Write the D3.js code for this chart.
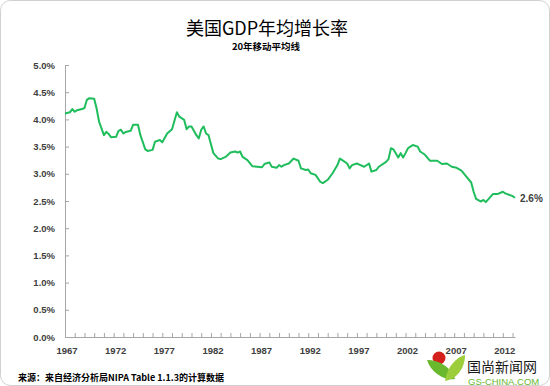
<!DOCTYPE html>
<html>
<head>
<meta charset="utf-8">
<script src="https://cdn.jsdelivr.net/npm/d3@7"></script>
<style>
  body { margin: 0; background: #fff; }
  svg { display: block; }
</style>
</head>
<body>
<div id="chart"></div>
<script>
// Chart data (quarterly-ish points, % per year)
var years = [1967.0, 1967.5, 1967.75, 1968.0, 1968.25, 1968.75, 1969.0, 1969.25, 1969.5, 1970.0,
  1970.25, 1970.5, 1971.0, 1971.25, 1971.5, 1971.75, 1972.25, 1972.5, 1972.75, 1973.0,
  1973.25, 1973.75, 1974.0, 1974.5, 1974.75, 1975.25, 1975.5, 1976.0, 1976.25, 1976.75,
  1977.0, 1977.5, 1978.0, 1978.5, 1978.75, 1979.25, 1979.5, 1979.75, 1980.0, 1980.5,
  1980.75, 1981.0, 1981.25, 1981.5, 1981.75, 1982.25, 1982.75, 1983.0, 1983.5, 1984.0,
  1984.5, 1984.75, 1985.0, 1985.25, 1985.75, 1986.25, 1986.75, 1987.25, 1987.5, 1988.0,
  1988.25, 1988.75, 1989.0, 1989.25, 1989.5, 1990.0, 1990.5, 1991.0, 1991.25, 1991.75,
  1992.0, 1992.25, 1992.75, 1993.25, 1993.5, 1994.0, 1994.5, 1995.0, 1995.25, 1995.5,
  1996.0, 1996.25, 1996.5, 1997.0, 1997.25, 1997.75, 1998.25, 1998.5, 1999.0, 1999.25,
  2000.0, 2000.25, 2000.5, 2000.75, 2001.25, 2001.5, 2001.75, 2002.0, 2002.25, 2002.5,
  2002.75, 2003.25, 2003.5, 2004.0, 2004.5, 2005.25, 2005.75, 2006.25, 2006.75, 2007.25,
  2007.75, 2008.25, 2008.75, 2009.0, 2009.25, 2009.75, 2010.0, 2010.25, 2010.5, 2011.0,
  2011.5, 2012.0, 2012.25, 2013.0, 2013.25];
var growth = [4.11, 4.13, 4.19, 4.14, 4.17, 4.19, 4.21, 4.36, 4.39, 4.38,
  4.20, 3.96, 3.71, 3.77, 3.73, 3.67, 3.68, 3.79, 3.81, 3.74,
  3.77, 3.79, 3.90, 3.90, 3.71, 3.45, 3.42, 3.44, 3.59, 3.62,
  3.58, 3.74, 3.82, 4.13, 4.05, 3.99, 3.82, 3.87, 3.87, 3.71,
  3.65, 3.81, 3.87, 3.74, 3.71, 3.38, 3.28, 3.27, 3.31, 3.39,
  3.41, 3.39, 3.41, 3.31, 3.25, 3.14, 3.13, 3.12, 3.18, 3.21,
  3.13, 3.11, 3.16, 3.13, 3.16, 3.19, 3.28, 3.24, 3.10, 3.07,
  3.08, 3.01, 2.98, 2.85, 2.83, 2.89, 3.01, 3.16, 3.28, 3.25,
  3.19, 3.10, 3.16, 3.19, 3.17, 3.13, 3.19, 3.04, 3.07, 3.13,
  3.22, 3.27, 3.47, 3.45, 3.30, 3.38, 3.30, 3.38, 3.47, 3.50,
  3.53, 3.50, 3.41, 3.35, 3.24, 3.24, 3.18, 3.19, 3.13, 3.11,
  3.06, 2.95, 2.84, 2.67, 2.54, 2.49, 2.52, 2.48, 2.53, 2.63,
  2.63, 2.67, 2.64, 2.59, 2.56];
var yTicks = [0, 0.5, 1.0, 1.5, 2.0, 2.5, 3.0, 3.5, 4.0, 4.5, 5.0];
var xLabels = [1967, 1972, 1977, 1982, 1987, 1992, 1997, 2002, 2007, 2012];
var lastLabel = "2.6%";

var TITLE = "美国GDP年均增长率";
var SUBTITLE = "20年移动平均线";
var SOURCE = "来源：来自经济分析局NIPA Table  1.1.3的计算数据";

var WIDTH = 550, HEIGHT = 386;
var LINE_COLOR = "#1fbd5c";
var AXIS_COLOR = "#a6a6a6";
var TEXT_COLOR = "#404040";
var FONT = "'Liberation Sans', Arial, sans-serif";
var CJK = "'Noto Sans CJK SC', sans-serif";

var svg = d3.select("#chart").append("svg")
  .attr("width", WIDTH)
  .attr("height", HEIGHT);

// outer rounded frame
svg.append("rect")
  .attr("x", 0.5).attr("y", 0.5)
  .attr("width", WIDTH - 1).attr("height", HEIGHT - 1)
  .attr("rx", 10)
  .attr("fill", "#fff")
  .attr("stroke", "#d0d0d0");

var xScale = d3.scaleLinear().domain([1967, 2013.25]).range([65, 515]);
var yScale = d3.scaleLinear().domain([0, 5]).range([337, 65]);

// titles
svg.append("text")
  .attr("x", 267).attr("y", 35)
  .attr("text-anchor", "middle")
  .style("font-family", CJK)
  .style("font-size", "18px")
  .style("fill", "#000")
  .text(TITLE);
svg.append("text")
  .attr("x", 266).attr("y", 50)
  .attr("text-anchor", "middle")
  .style("font-family", CJK)
  .style("font-weight", "bold")
  .style("font-size", "9.5px")
  .style("fill", "#000")
  .text(SUBTITLE);

// y axis
var yAxis = d3.axisLeft(yScale)
  .tickValues(yTicks)
  .tickSize(-4)
  .tickPadding(10)
  .tickFormat(function (d) { return d3.format(".1f")(d) + "%"; });
var gy = svg.append("g").attr("transform", "translate(65,0)").call(yAxis);
gy.select(".domain").attr("stroke", AXIS_COLOR);
gy.selectAll(".tick line").attr("stroke", AXIS_COLOR);
gy.selectAll(".tick text")
  .style("font-family", FONT)
  .style("font-weight", "bold")
  .style("font-size", "9.5px")
  .style("fill", TEXT_COLOR);

// x axis: a tick every year, labels every five
var yearTicks = d3.range(1967, 2014);
var xAxis = d3.axisBottom(xScale)
  .tickValues(yearTicks)
  .tickSize(-4)
  .tickSizeOuter(0)
  .tickFormat("");
var gx = svg.append("g").attr("transform", "translate(0,337)").call(xAxis);
gx.select(".domain").attr("stroke", AXIS_COLOR);
gx.selectAll(".tick line").attr("stroke", AXIS_COLOR);

svg.append("g").selectAll("text")
  .data(xLabels)
  .enter().append("text")
  .attr("x", function (d) { return xScale(d) + 2; })
  .attr("y", 354)
  .attr("text-anchor", "middle")
  .style("font-family", FONT)
  .style("font-weight", "bold")
  .style("font-size", "9.5px")
  .style("fill", TEXT_COLOR)
  .text(function (d) { return d; });

// the line
var points = years.map(function (y, i) { return { year: y, value: growth[i] }; });
var line = d3.line()
  .x(function (d) { return xScale(d.year); })
  .y(function (d) { return yScale(d.value); });
svg.append("path")
  .datum(points)
  .attr("d", line)
  .attr("fill", "none")
  .attr("stroke", LINE_COLOR)
  .attr("stroke-width", 2)
  .attr("stroke-linejoin", "round");

var last = points[points.length - 1];
svg.append("text")
  .attr("x", xScale(last.year) + 5)
  .attr("y", yScale(last.value) + 4)
  .style("font-family", FONT)
  .style("font-weight", "bold")
  .style("font-size", "10px")
  .style("fill", TEXT_COLOR)
  .text(lastLabel);

// source note
svg.append("text")
  .attr("x", 18).attr("y", 381)
  .style("font-family", CJK)
  .style("font-weight", "bold")
  .style("font-size", "9px")
  .style("fill", "#000")
  .text(SOURCE);

// watermark logo
var logo = svg.append("g");
logo.append("circle").attr("cx", 439).attr("cy", 358).attr("r", 6.5).attr("fill", "#d3201c");
logo.append("path")
  .attr("d", "M427,360 C431,373 445,381 455,379 C451,367 439,360 427,360 Z")
  .attr("fill", "#6ab82e");
logo.append("path")
  .attr("d", "M445,381 C447,366 457,357 465,355 C465,368 457,379 445,381 Z")
  .attr("fill", "#9ccd3a");
logo.append("text")
  .attr("x", 467).attr("y", 372)
  .style("font-family", CJK)
  .style("font-size", "14px")
  .style("fill", "#1a1a1a")
  .text("国尚新闻网");
logo.append("text")
  .attr("x", 468).attr("y", 384.5)
  .style("font-family", FONT)
  .style("font-size", "9.5px")
  .style("fill", "#6ab82e")
  .text("GS-CHINA.COM");
</script>
</body>
</html>
